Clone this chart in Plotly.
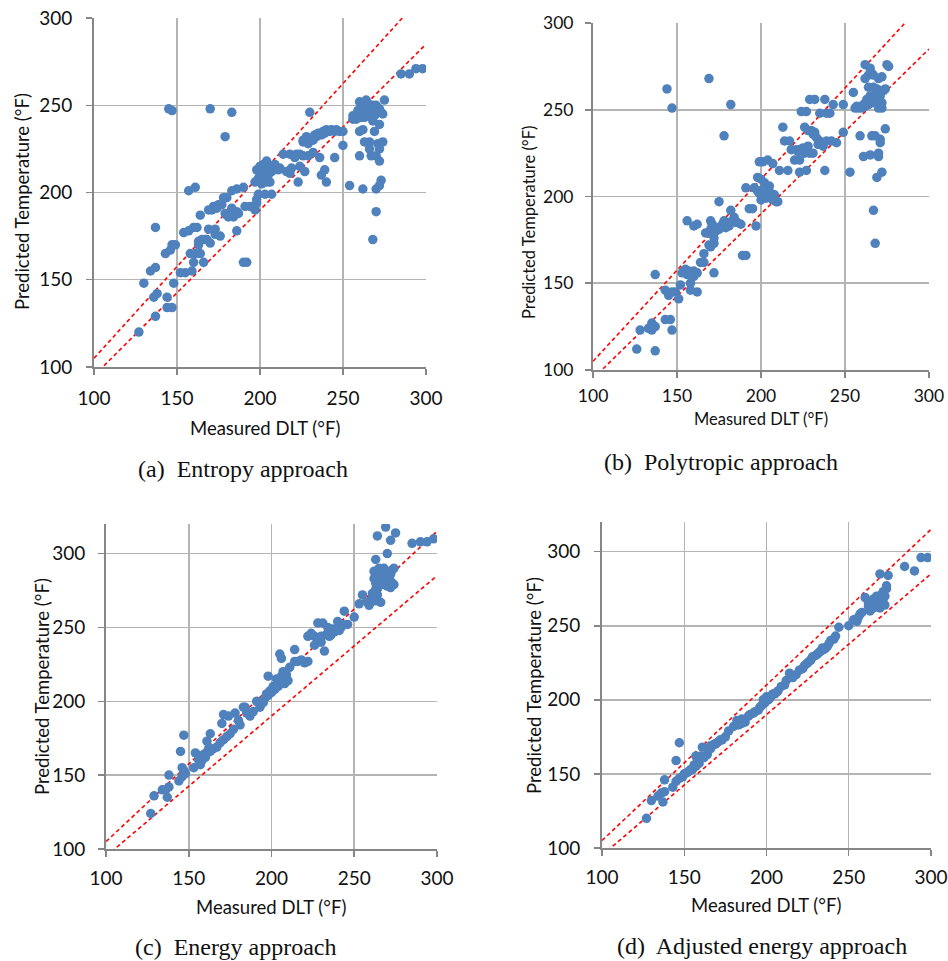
import plotly.graph_objects as go

# ---------------- data ----------------
# (a) Entropy approach
xa = [127,130,134,137,137,136,138,137,144,144,147,148,143,146,147,149,145,147,152,155,159,154,157,160,162,157,161,158,161,164,
      160,163,164,165,168,170,166,169,172,175,177,169,173,173,176,170,179,183,178,180,180,184,187,183,186,183,186,186,190,190,
      192,191,194,197,198,199,198,197,199,200,201,203,202,204,206,201,203,206,203,207,208,212,216,218,214,218,222,226,229,223,
      224,227,226,229,232,234,237,239,242,245,248,230,232,236,237,239,240,245,250,250,254,256,258,261,260,264,262,264,266,268,
      270,272,273,274,275,261,263,265,267,269,260,260,262,262,263,266,266,267,268,269,268,270,270,270,272,271,272,274,272,273,
      272,285,290,294,298,
      205,207,209,200,198,204,226,228,231,233,235,238,240,243,246,256,259,262,265,267,269,271,266,263,258,171,174,167,163,179,
      181,221,224,219,211]
ya = [120,148,155,157,180,140,142,129,140,134,134,148,165,167,170,170,248,247,154,154,155,177,178,180,180,201,203,165,165,165,
      160,170,187,173,173,171,160,190,192,193,193,179,179,176,175,248,232,246,197,197,187,186,188,191,189,201,202,178,203,160,
      160,192,192,190,196,199,194,206,208,210,213,211,216,218,215,205,207,206,199,199,215,214,212,211,222,222,222,221,221,206,
      215,212,229,228,230,232,233,234,235,235,235,246,223,220,210,213,206,220,235,227,204,242,244,246,252,253,248,250,248,250,
      250,248,246,245,253,243,247,245,246,244,221,235,236,202,229,229,225,221,173,235,241,189,202,221,218,228,225,229,239,207,
      204,268,268,271,271,
      210,212,216,215,213,206,230,232,231,233,234,235,236,236,236,244,247,250,251,249,247,246,244,243,242,190,191,173,172,188,
      186,220,222,214,213]

# (b) Polytropic approach
xb = [126,128,133,135,137,135,137,137,143,146,147,143,145,147,149,151,152,144,147,154,156,158,160,162,160,158,158,162,156,160,
      162,164,166,166,167,169,170,171,170,172,172,170,169,172,169,172,175,174,177,180,182,184,186,188,179,176,178,182,189,191,
      191,193,195,197,196,198,199,201,204,207,210,208,203,200,202,205,198,200,211,216,214,217,213,218,221,223,226,229,231,220,
      223,223,227,224,227,226,228,231,233,235,237,229,232,238,235,239,241,243,238,239,242,245,249,249,253,255,256,258,260,262,
      264,266,268,270,272,262,265,267,270,272,275,276,264,267,269,271,273,274,259,261,265,266,268,267,268,269,270,270,271,271,
      274,272,
      153,155,157,159,161,171,173,175,178,181,183,185,199,201,203,205,207,209,222,225,228,230,232,234,257,261,263,265,267,269,
      271,264,266,262,268,270,272,270]
yb = [112,123,124,123,125,127,111,155,129,129,123,146,143,145,145,141,149,262,251,157,155,156,154,156,157,150,146,145,186,183,
      184,162,162,167,179,179,186,184,181,179,173,171,172,176,268,156,197,182,184,185,192,188,185,184,182,182,235,253,166,166,
      205,193,193,183,205,203,220,220,221,219,197,201,201,198,208,206,211,210,215,215,232,232,240,227,227,227,225,225,225,221,
      221,214,215,249,249,240,238,236,234,232,229,256,256,256,248,248,248,253,215,232,232,231,253,237,214,260,251,251,251,252,
      253,254,255,254,254,276,274,270,268,269,276,275,263,263,262,261,261,262,235,223,224,235,235,192,173,211,225,223,233,231,
      239,214,
      156,158,157,155,156,183,180,181,186,183,186,185,202,204,199,203,198,197,226,228,229,238,237,230,252,253,256,258,257,255,
      258,270,271,268,262,251,251,260]

# (c) Energy approach
xc = [127,129,134,136,137,138,138,144,146,147,148,146,145,147,153,154,156,158,157,159,161,163,161,163,167,169,171,173,175,177,
      171,174,170,178,180,181,183,185,184,187,189,191,193,195,197,199,198,201,203,205,206,210,207,205,206,214,211,214,216,218,
      220,222,222,224,226,228,231,230,232,234,236,238,240,242,244,246,250,253,255,258,259,261,263,262,264,265,267,268,269,271,
      272,273,274,270,264,266,271,268,270,272,266,262,263,264,269,270,272,275,285,290,294,298,
      156,158,160,162,165,196,198,200,202,204,206,208,209,226,228,230,233,235,237,241,243,263,265,267,269,271,272,273,270,268,
      266,264,262,274,272,261,263]
yc = [124,136,140,140,135,142,150,146,149,153,151,155,166,177,155,165,163,160,157,164,165,166,173,178,169,172,174,176,178,181,
      191,190,185,192,187,184,196,192,196,190,193,200,196,199,205,207,217,210,215,212,217,214,220,232,229,235,223,227,227,228,
      226,227,244,246,244,253,253,240,234,250,245,247,254,250,261,252,257,266,272,267,265,270,276,283,276,290,283,290,288,285,
      281,289,290,278,272,267,281,279,284,277,286,271,296,312,318,300,309,314,307,308,308,310,
      160,163,162,168,168,202,204,206,208,210,214,212,218,238,240,244,245,244,249,248,252,280,284,281,282,283,286,280,287,285,
      288,286,288,279,278,273,268]

# (d) Adjusted energy approach
xd = [127,130,134,136,137,138,138,143,145,147,149,145,147,153,155,157,159,160,162,164,157,161,166,169,171,173,175,177,182,185,
      187,189,192,195,197,199,201,203,205,207,209,211,214,216,218,220,223,225,227,230,233,235,237,239,241,242,244,250,253,255,
      257,260,262,264,266,268,270,272,270,271,273,269,274,273,263,265,267,269,284,290,294,298,
      150,152,154,156,158,166,168,170,172,180,183,185,190,193,196,198,200,202,204,206,212,222,224,226,228,231,232,234,236,238,
      262,264,265,267,268,269,271,272,258,256]
yd = [120,132,135,137,131,138,146,141,145,147,148,159,171,152,153,155,157,162,161,163,162,168,167,170,172,173,175,179,186,187,
      185,189,191,193,196,198,200,203,204,206,209,210,218,215,217,220,223,225,227,230,233,234,236,240,241,243,249,250,254,253,
      258,269,263,266,265,268,266,264,271,273,275,285,284,277,260,262,268,262,290,287,296,296,
      150,151,153,156,158,169,170,171,173,182,183,184,190,192,195,200,202,201,204,205,213,221,224,226,229,231,232,235,235,238,
      265,262,268,270,264,266,268,270,259,256]

ticks = [100, 150, 200, 250, 300]
band = 0.05  # +/- 5 % error band
captions = ["(a)\u00a0 Entropy approach", "(b)\u00a0 Polytropic approach",
            "(c)\u00a0 Energy approach", "(d)\u00a0 Adjusted energy approach"]
x_title = "Measured DLT (°F)"
y_title = "Predicted Temperature (°F)"

# ---------------- layout geometry (page pixels) ----------------
W, H = 948, 961
EPS = 0.05
panels = [
    dict(x0=94, x1=426, y0=18, y1=367, ymax=300, tf=19, af=18.5, xs=7, ys=10),
    dict(x0=593, x1=929, y0=23, y1=370, ymax=300, tf=17.5, af=16.5, xs=3, ys=8),
    dict(x0=106, x1=437, y0=524, y1=849, ymax=320, tf=19, af=18.5, xs=5, ys=9),
    dict(x0=602, x1=931, y0=522, y1=848, ymax=320, tf=19, af=18.5, xs=5, ys=10),
]
xtitle_pos = [(265, 428), (761, 419), (271, 907), (766, 905)]
ytitle_pos = [(22, 202), (529, 223), (42, 687), (534, 686)]
cap_pos = [(243, 469), (721, 462), (235, 947), (762, 946)]

def px(v):
    return v / W

def py(v):
    return 1 - v / H

data = [(xa, ya), (xb, yb), (xc, yc), (xd, yd)]

fig = go.Figure()
BLUE = "#4F81BD"
FONT = "Lato, 'Open Sans', sans-serif"

for i, (p, (xs, ys)) in enumerate(zip(panels, data)):
    n = "" if i == 0 else str(i + 1)
    xr, yr = "x" + n, "y" + n
    lo, hi = ticks[0], ticks[-1]
    for f in (1 + band, 1 - band):
        fig.add_trace(go.Scatter(x=[lo, hi], y=[lo * f, hi * f], mode="lines",
                                 line=dict(color="#FF0000", width=1.6, dash="4px,3px"),
                                 xaxis=xr, yaxis=yr, showlegend=False, hoverinfo="skip"))
    fig.add_trace(go.Scatter(x=xs, y=ys, mode="markers",
                             marker=dict(color=BLUE, size=9.5, line=dict(width=0)),
                             xaxis=xr, yaxis=yr, showlegend=False))
    common = dict(showgrid=True, gridcolor="#B4B4B4", gridwidth=1.5, showline=True,
                  linecolor="#868686", linewidth=2, ticks="outside", ticklen=6,
                  tickcolor="#868686", tickwidth=1.5, zeroline=False,
                  tickmode="array", tickvals=ticks, ticktext=[str(t) for t in ticks],
                  automargin=False,
                  tickfont=dict(family=FONT, size=p["tf"], color="#111111"), fixedrange=True)
    fig.layout["xaxis" + n] = dict(common, domain=[px(p["x0"]), px(p["x1"])],
                                   range=[ticks[0] - EPS, ticks[-1] + EPS],
                                   anchor=yr, ticklabelstandoff=p["xs"])
    fig.layout["yaxis" + n] = dict(common, domain=[py(p["y1"]), py(p["y0"])],
                                   range=[ticks[0] - EPS, p["ymax"] + EPS], anchor=xr,
                                   ticklabelstandoff=p["ys"])
    fig.add_annotation(text=x_title, x=px(xtitle_pos[i][0]), y=py(xtitle_pos[i][1]),
                       xref="paper", yref="paper", showarrow=False, xanchor="center", yanchor="middle",
                       font=dict(family=FONT, size=p["af"], color="#111111"))
    fig.add_annotation(text=y_title, x=px(ytitle_pos[i][0]), y=py(ytitle_pos[i][1]),
                       xref="paper", yref="paper", showarrow=False, textangle=-90,
                       xanchor="center", yanchor="middle",
                       font=dict(family=FONT, size=p["af"], color="#111111"))
    fig.add_annotation(text=captions[i], x=px(cap_pos[i][0]), y=py(cap_pos[i][1]),
                       xref="paper", yref="paper", showarrow=False, xanchor="center", yanchor="middle",
                       font=dict(family="Liberation Serif, 'Times New Roman', serif", size=24, color="#111111"))

fig.update_layout(width=W, height=H, margin=dict(l=0, r=0, t=0, b=0, autoexpand=False),
                  paper_bgcolor="white", plot_bgcolor="white", hovermode=False)
fig.write_html("out.html",
               config={"displayModeBar": False, "staticPlot": True},
               post_script="document.body.style.margin='0';"
                           "document.documentElement.style.overflow='hidden';"
                           "document.body.style.overflow='hidden';")
